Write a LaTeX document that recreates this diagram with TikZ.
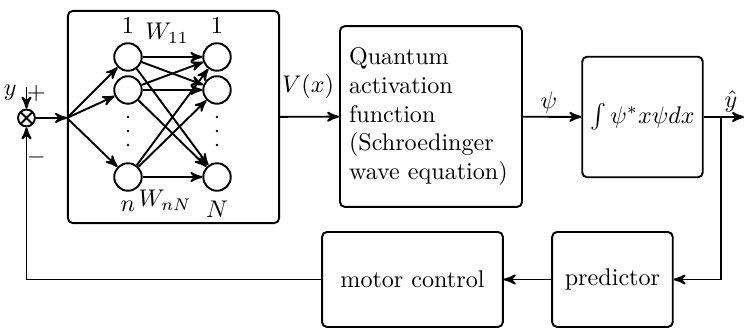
\documentclass[tikz,border=0pt]{standalone}
\usepackage{tikz}
\usetikzlibrary{arrows,positioning}

\begin{document}
\begin{tikzpicture}[->,>=stealth',thick,
	block/.style={draw,rounded corners=2pt,inner sep=3pt},
	neuron/.style={circle,draw,minimum size=11.4pt,inner sep=0pt},
	sign/.style={inner sep=0pt},
	summer/.style={circle,draw,minimum size=7pt,inner sep=0pt,
		path picture={\draw[-] (path picture bounding box.north west) -- (path picture bounding box.south east)
		                       (path picture bounding box.north east) -- (path picture bounding box.south west);}}]

	\useasboundingbox (0,0) rectangle (10.848,-4.782);

	% blocks
	\node[summer]         (sum)   at (0.386,-1.720) {};
	\node[block,minimum width=87.6pt,minimum height=88pt] (net) at (2.530,-1.706) {};
	\node[block,text width=68pt,minimum width=75.5pt,minimum height=75pt,align=left]
	                      (qaf)   at (6.284,-1.699) {Quantum\\activation\\function\\(Schroedinger\\wave equation)};
	\node[block,minimum width=50pt,minimum height=50pt] (expect) at (9.368,-1.706) {$\int\psi^* x\psi dx$};
	\node[block,minimum width=50pt,minimum height=39.4pt] (pred)  at (8.930,-4.075) {predictor};
	\node[block,minimum width=75pt,minimum height=39.4pt] (motor) at (6.014,-4.075) {motor control};

	% network
	\node[neuron,label={above:$1$}] (in1)  at (1.866,-0.831) {};
	\node[neuron]                   (in2)  at (1.866,-1.312) {};
	\node[neuron,label={below:$n$}] (inn)  at (1.866,-2.581) {};
	\node[neuron,label={above:$1$}] (out1) at (3.164,-0.831) {};
	\node[neuron]                   (out2) at (3.164,-1.312) {};
	\node[neuron,label={below:$N$}] (outN) at (3.164,-2.581) {};
	\foreach \x in {1.866,3.164}
		\foreach \y in {-1.706,-1.910,-2.114}
			\fill (\x,\y) circle (0.6pt);
	\node at (2.435,-0.481) {$W_{11}$};
	\node at (2.406,-2.916) {$W_{nN}$};

	% signals
	\coordinate (yin)    at (0.386,-1.269);
	\coordinate (yout)   at (10.848,-1.706);
	\coordinate (branch) at (10.512,-1.706);
	\node[sign] at (0.150,-1.356) {$y$};
	\node[sign] at (0.530,-1.356) {$+$};
	\node[sign] at (0.530,-2.289) {$-$};
	\node at (4.491,-1.254) {$V(x)$};
	\node at (8.004,-1.487) {$\psi$};
	\node at (10.658,-1.473) {$\hat{y}$};

	\path (yin)     edge (sum)
	      (sum)     edge (net.west |- sum)
	      (net)     edge (qaf)
	      (qaf)     edge (expect)
	      (expect)  edge (yout)
	      (pred)    edge (motor);
	\foreach \a in {1,2,n}
		\path (net.west |- sum) edge (in\a);
	\foreach \a in {1,2,n}
		\foreach \b in {1,2,N}
			\path (in\a) edge (out\b);
	\draw (branch) |- (pred);
	\draw (motor) -| (sum);

\end{tikzpicture}
\end{document}
